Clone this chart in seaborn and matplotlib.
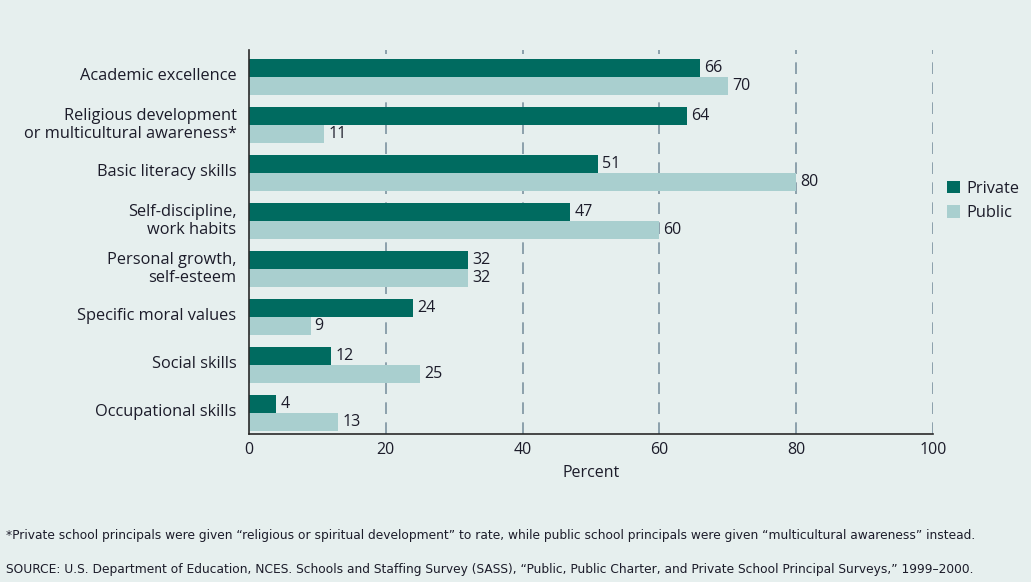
import matplotlib
matplotlib.use("Agg")
import matplotlib.pyplot as plt
import matplotlib.transforms as mtransforms
import seaborn as sns
import pandas as pd
from matplotlib.patches import Patch

categories = ["Academic excellence",
              "Religious development\nor multicultural awareness*",
              "Basic literacy skills",
              "Self-discipline,\nwork habits",
              "Personal growth,\nself-esteem",
              "Specific moral values",
              "Social skills",
              "Occupational skills"]
private_vals = [66, 64, 51, 47, 32, 24, 12, 4]
public_vals = [70, 11, 80, 60, 32, 9, 25, 13]
series = ["Private", "Public"]
x_ticks = [0, 20, 40, 60, 80, 100]

BG = "#e6efee"
DARK = "#006b60"
LIGHT = "#a9cfcf"
GRID = "#7d93a0"
TXT = "#1c1c2a"

df = pd.DataFrame({
    "category": categories * 2,
    "value": private_vals + public_vals,
    "series": [series[0]] * len(categories) + [series[1]] * len(categories),
})

sns.set_theme(style="white")
plt.rcParams["font.family"] = ["Open Sans", "DejaVu Sans"]

fig = plt.figure(figsize=(10.31, 5.82), dpi=100, facecolor=BG)
ax = fig.add_axes([249 / 1031, 1 - 434 / 582, (933 - 249) / 1031, (434 - 50) / 582])
ax.set_facecolor(BG)

sns.barplot(data=df, y="category", x="value", hue="series", orient="h",
            palette=[DARK, LIGHT], order=categories, hue_order=series,
            width=0.74, saturation=1, ax=ax, legend=False)

for c in ax.containers:
    for bar in c:
        bar.set_edgecolor("none")
    ax.bar_label(c, labels=[f"{v:.0f}" for v in c.datavalues], padding=3,
                 fontsize=11.5, color=TXT)

ax.set_xlim(0, 100)
ax.set_ylim(7.44, -0.56)
ax.set_xticks(x_ticks)
ax.set_xticklabels([str(t) for t in x_ticks], fontsize=11.5, color=TXT)
ax.tick_params(axis="x", length=0, pad=6)
ax.tick_params(axis="y", length=0, pad=9)
shift = mtransforms.ScaledTranslation(0, 3 / 100, fig.dpi_scale_trans)
for lbl in ax.get_yticklabels():
    lbl.set_fontsize(11.8)
    lbl.set_color(TXT)
    lbl.set_multialignment("right")
    lbl.set_transform(lbl.get_transform() + shift)
ax.set_ylabel("")
ax.set_xlabel("Percent", fontsize=11.5, color=TXT, labelpad=5)

for t in x_ticks[1:]:
    ax.axvline(t, color=GRID, lw=1.2, ls=(0, (7, 5)), zorder=0)

for s in ["top", "right"]:
    ax.spines[s].set_visible(False)
for s in ["left", "bottom"]:
    ax.spines[s].set_color("#2a2a2a")
    ax.spines[s].set_linewidth(1.2)

handles = [Patch(facecolor=DARK, edgecolor="none"), Patch(facecolor=LIGHT, edgecolor="none")]
fig.legend(handles, series, loc="center left", bbox_to_anchor=(932 / 1031, 1 - 201 / 582),
           frameon=False, fontsize=11.8, handlelength=0.8, handleheight=0.8,
           handletextpad=0.4, labelspacing=0.5, labelcolor=TXT)

foot_font = ["Liberation Sans Narrow", "DejaVu Sans Condensed", "DejaVu Sans"]
fig.text(6 / 1031, 1 - 536 / 582,
         "*Private school principals were given \u201creligious or spiritual development\u201d to rate, "
         "while public school principals were given \u201cmulticultural awareness\u201d instead.",
         fontsize=8.8, color=TXT, family=foot_font, va="center")
fig.text(6 / 1031, 1 - 569 / 582,
         "SOURCE: U.S. Department of Education, NCES. Schools and Staffing Survey (SASS), "
         "\u201cPublic, Public Charter, and Private School Principal Surveys,\u201d 1999\u20132000.",
         fontsize=8.8, color=TXT, family=foot_font, va="center")

fig.savefig("out.png", dpi=100, facecolor=BG)
